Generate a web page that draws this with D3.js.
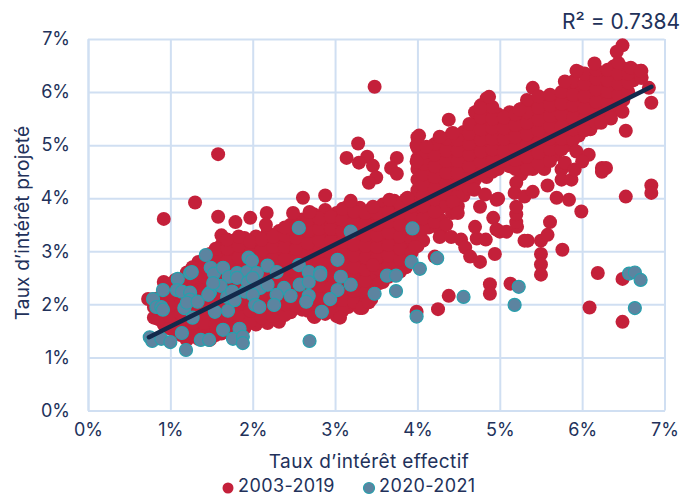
<!DOCTYPE html>
<html>
<head>
<meta charset="utf-8">
<script src="https://cdn.jsdelivr.net/npm/d3@7"></script>
<style>
  body { margin: 0; background: #fff; }
  text { font-family: Inter, "Open Sans", sans-serif; fill: #22315a; }
  .grid line, .grid path { stroke: #d0dff2; stroke-width: 2; }
</style>
</head>
<body>
<div id="chart"></div>
<script>
// tick labels
var xTicks = [0, 1, 2, 3, 4, 5, 6, 7];
var yTicks = [0, 1, 2, 3, 4, 5, 6, 7];

// 2003-2019, dense part of the cloud: [x, y, y, y ...] read column by column
var redColumns = [
  [0.80, 1.75, 1.95, 2.10],
  [0.92, 1.62, 1.83, 2.02, 2.20, 2.42],
  [1.06, 1.48, 1.70, 1.90, 2.10, 2.28, 2.46],
  [1.20, 1.33, 1.55, 1.75, 1.95, 2.15, 2.35, 2.60],
  [1.34, 1.35, 1.55, 1.78, 1.98, 2.20, 2.42, 2.66, 2.80],
  [1.48, 1.33, 1.52, 1.74, 1.95, 2.18, 2.38, 2.60, 2.80, 2.95],
  [1.62, 1.45, 1.65, 1.87, 2.08, 2.30, 2.50, 2.70, 2.92, 3.12, 3.30],
  [1.76, 1.48, 1.70, 1.90, 2.12, 2.33, 2.55, 2.75, 3.00, 3.20],
  [1.90, 1.55, 1.77, 1.98, 2.20, 2.40, 2.62, 2.85, 3.05, 3.25],
  [2.04, 1.62, 1.85, 2.05, 2.27, 2.48, 2.70, 2.90, 3.10, 3.28],
  [2.18, 1.65, 1.88, 2.10, 2.30, 2.50, 2.72, 2.95, 3.15, 3.35],
  [2.32, 1.67, 1.90, 2.10, 2.32, 2.55, 2.75, 2.98, 3.20, 3.38],
  [2.46, 1.85, 2.05, 2.28, 2.50, 2.70, 2.92, 3.12, 3.35, 3.50],
  [2.60, 1.90, 2.12, 2.35, 2.55, 2.78, 3.00, 3.20, 3.42, 3.60],
  [2.74, 1.78, 2.00, 2.20, 2.42, 2.65, 2.85, 3.08, 3.28, 3.50, 3.70],
  [2.88, 1.82, 2.05, 2.27, 2.48, 2.70, 2.92, 3.12, 3.35, 3.55, 3.78],
  [3.02, 1.78, 2.00, 2.20, 2.42, 2.65, 2.85, 3.08, 3.30, 3.50, 3.72],
  [3.16, 1.95, 2.15, 2.38, 2.60, 2.82, 3.02, 3.25, 3.45, 3.68, 3.85],
  [3.30, 1.93, 2.12, 2.35, 2.55, 2.78, 3.00, 3.20, 3.42, 3.62, 3.82],
  [3.44, 2.10, 2.30, 2.52, 2.75, 2.95, 3.18, 3.38, 3.60, 3.80],
  [3.58, 2.42, 2.62, 2.85, 3.05, 3.28, 3.48, 3.70, 3.88],
  [3.72, 2.55, 2.75, 2.98, 3.18, 3.40, 3.62, 3.82, 3.95],
  [3.86, 2.70, 2.90, 3.12, 3.32, 3.55, 3.75, 3.98],
  [4.00, 3.10, 3.30, 3.52, 3.72, 3.95, 4.15, 4.35, 4.55, 4.75, 4.95, 5.15],
  [4.14, 3.45, 3.65, 3.88, 4.08, 4.30, 4.50, 4.72, 4.92],
  [4.28, 3.38, 3.60, 3.82, 4.02, 4.25, 4.45, 4.68, 4.88, 5.10],
  [4.42, 3.72, 3.95, 4.15, 4.38, 4.58, 4.80, 5.00, 5.22],
  [4.56, 4.05, 4.28, 4.50, 4.70, 4.92, 5.12, 5.25],
  [4.70, 4.35, 4.55, 4.78, 4.98, 5.20, 5.40, 5.62],
  [4.84, 4.40, 4.60, 4.82, 5.02, 5.25, 5.45, 5.70, 5.88],
  [4.98, 4.55, 4.78, 5.00, 5.20, 5.40, 5.58],
  [5.12, 4.60, 4.80, 5.02, 5.22, 5.45, 5.62],
  [5.26, 4.45, 4.65, 4.88, 5.08, 5.30, 5.50, 5.68],
  [5.40, 4.55, 4.72, 4.95, 5.15, 5.38, 5.58, 5.80, 6.08],
  [5.54, 4.55, 4.78, 5.00, 5.20, 5.42, 5.62, 5.85],
  [5.68, 4.82, 5.02, 5.25, 5.45, 5.68, 5.88],
  [5.82, 5.00, 5.20, 5.42, 5.65, 5.85, 6.12],
  [5.96, 5.18, 5.40, 5.60, 5.82, 6.05, 6.38],
  [6.10, 5.30, 5.52, 5.72, 5.95, 6.15, 6.30],
  [6.24, 5.50, 5.70, 5.92, 6.12, 6.35],
  [6.38, 5.65, 5.85, 6.08, 6.30, 6.48],
  [6.50, 5.85, 6.05, 6.25, 6.45],
  [6.62, 6.22, 6.42],
  [6.72, 6.27, 6.40]
];

// more of the same cloud, the points lying between the columns above
var redColumnsBetween = [
  [0.86, 1.72, 1.92, 2.12],
  [0.99, 1.55, 1.78, 1.98, 2.18, 2.38],
  [1.13, 1.42, 1.62, 1.82, 2.02, 2.22, 2.42],
  [1.27, 1.45, 1.65, 1.85, 2.05, 2.25, 2.50, 2.70],
  [1.41, 1.45, 1.65, 1.85, 2.08, 2.30, 2.52, 2.72],
  [1.55, 1.42, 1.62, 1.85, 2.05, 2.25, 2.50, 2.70, 2.90, 3.05],
  [1.69, 1.55, 1.78, 1.98, 2.20, 2.42, 2.62, 2.82, 3.05, 3.22],
  [1.83, 1.60, 1.80, 2.00, 2.22, 2.45, 2.65, 2.88, 3.10, 3.28],
  [1.97, 1.68, 1.88, 2.10, 2.30, 2.52, 2.75, 2.95, 3.18],
  [2.11, 1.75, 1.98, 2.18, 2.40, 2.60, 2.82, 3.02, 3.22],
  [2.25, 1.78, 2.00, 2.20, 2.42, 2.65, 2.85, 3.08, 3.28],
  [2.39, 1.80, 2.00, 2.20, 2.42, 2.65, 2.85, 3.08, 3.30, 3.45],
  [2.53, 1.98, 2.18, 2.40, 2.62, 2.82, 3.05, 3.25, 3.48],
  [2.67, 1.88, 2.08, 2.30, 2.50, 2.72, 2.95, 3.15, 3.38, 3.60],
  [2.81, 1.90, 2.12, 2.35, 2.58, 2.78, 3.00, 3.20, 3.42, 3.62],
  [2.95, 1.90, 2.10, 2.32, 2.55, 2.75, 2.98, 3.20, 3.42, 3.65],
  [3.09, 1.88, 2.08, 2.30, 2.50, 2.72, 2.95, 3.18, 3.38, 3.60, 3.80],
  [3.23, 2.05, 2.25, 2.48, 2.70, 2.92, 3.12, 3.35, 3.55, 3.75],
  [3.37, 2.02, 2.22, 2.45, 2.65, 2.88, 3.10, 3.30, 3.52, 3.72],
  [3.51, 2.55, 2.68, 2.88, 3.08, 3.30, 3.50, 3.72],
  [3.65, 2.52, 2.72, 2.92, 3.12, 3.35, 3.55, 3.75],
  [3.79, 2.62, 2.85, 3.05, 3.28, 3.50, 3.72, 3.90],
  [3.93, 2.98, 3.22, 3.42, 3.65, 3.85],
  [4.07, 3.20, 3.42, 3.62, 3.85, 4.05, 4.25, 4.45, 4.65, 4.85],
  [4.21, 3.55, 3.75, 3.98, 4.18, 4.40, 4.60, 4.82, 5.02],
  [4.35, 3.50, 3.88, 4.08, 4.28, 4.48, 4.70, 4.90, 5.12],
  [4.49, 3.85, 4.05, 4.28, 4.48, 4.70, 4.90, 5.10],
  [4.63, 4.18, 4.40, 4.60, 4.82, 5.02, 5.22, 5.40],
  [4.77, 4.45, 4.68, 4.88, 5.10, 5.30, 5.52, 5.75],
  [4.91, 4.50, 4.70, 4.92, 5.12, 5.32, 5.50, 5.72],
  [5.05, 4.70, 4.90, 5.12, 5.32, 5.52],
  [5.19, 4.55, 4.72, 4.95, 5.15, 5.38, 5.58],
  [5.33, 4.55, 4.78, 5.00, 5.20, 5.42, 5.62, 5.85],
  [5.47, 4.65, 4.85, 5.05, 5.28, 5.48, 5.70, 5.92],
  [5.61, 4.70, 4.92, 5.12, 5.35, 5.55, 5.75, 5.95],
  [5.75, 4.92, 5.12, 5.35, 5.58, 5.78, 6.00],
  [5.89, 5.10, 5.30, 5.52, 5.75, 5.95, 6.20],
  [6.03, 5.28, 5.50, 5.70, 5.92, 6.15, 6.35],
  [6.17, 5.42, 5.62, 5.82, 6.05, 6.25, 6.42],
  [6.31, 5.60, 5.80, 6.00, 6.22, 6.42],
  [6.44, 5.75, 5.95, 6.15, 6.35, 6.55],
  [6.56, 6.00, 6.18, 6.35]
];

// 2003-2019, points standing apart from the cloud
var redScattered = [
  [0.73, 2.10], [0.92, 3.61], [1.30, 3.92], [1.58, 4.83], [3.48, 6.10],
  [1.58, 3.65], [1.79, 3.55], [1.97, 3.63], [2.17, 3.72], [2.16, 3.50],
  [2.49, 3.72], [2.61, 4.01], [2.88, 4.05], [2.69, 3.74], [3.19, 3.95],
  [3.66, 3.97], [3.88, 4.01], [3.46, 3.84], [3.28, 5.03], [3.14, 4.76],
  [3.39, 4.78], [3.29, 4.67], [3.46, 4.61], [3.50, 4.39], [3.41, 4.29],
  [3.75, 4.76], [3.68, 4.57], [3.75, 4.46], [4.02, 5.18], [3.99, 5.00],
  [4.11, 4.97], [4.27, 5.16], [3.99, 4.69], [4.43, 5.23], [4.38, 5.48],
  [2.75, 1.76], [3.06, 1.75], [3.33, 1.93], [3.41, 2.04], [3.54, 2.40],
  [3.46, 2.74], [3.97, 3.08], [3.99, 1.86], [4.25, 1.91], [4.38, 2.16],
  [4.21, 2.90], [4.27, 3.27], [4.41, 3.27], [4.53, 3.22], [4.58, 3.07],
  [4.64, 2.90], [4.76, 2.80], [4.94, 2.95], [4.88, 2.38], [4.88, 2.20],
  [4.72, 3.24], [4.83, 3.22], [4.70, 3.46], [4.76, 3.84], [4.69, 4.16],
  [4.82, 4.07], [4.43, 3.93], [4.49, 3.72], [4.96, 3.97], [4.92, 3.63],
  [4.96, 3.41], [5.00, 3.37], [5.08, 3.37], [5.13, 2.39], [5.21, 3.46],
  [5.20, 3.55], [5.20, 3.70], [5.20, 3.84], [5.20, 4.29], [5.18, 4.10],
  [5.30, 3.20], [5.34, 3.20], [5.50, 3.20], [5.58, 3.31], [5.61, 3.55],
  [5.76, 3.03], [5.50, 2.95], [5.50, 2.75], [5.50, 2.56], [5.30, 4.03],
  [5.40, 4.12], [5.58, 4.24], [5.69, 4.01], [5.84, 3.97], [5.99, 3.75],
  [5.75, 4.54], [5.75, 4.35], [5.87, 4.35], [5.79, 4.67], [5.91, 4.54],
  [5.93, 4.88], [6.08, 4.82], [6.00, 4.69], [6.24, 4.57], [6.29, 4.57],
  [6.24, 4.50], [6.19, 2.59], [6.09, 1.94], [6.49, 2.48], [6.49, 1.67],
  [6.53, 4.03], [6.84, 4.24], [6.84, 4.10], [6.53, 5.27], [6.49, 5.63],
  [6.35, 5.50], [6.23, 5.42], [6.84, 5.80], [6.81, 6.08], [6.72, 6.27],
  [6.49, 6.88], [6.42, 6.76], [6.15, 6.54], [5.93, 6.40], [6.59, 6.46],
  [6.71, 6.40], [5.79, 6.20], [4.87, 5.91], [4.76, 5.70], [5.24, 5.67],
  [4.98, 3.99]
];

// 2020-2021
var tealPoints = [
  [0.75, 1.38], [0.78, 1.31], [0.89, 1.35], [1.00, 1.29], [1.14, 1.46],
  [1.19, 1.14], [1.37, 1.33], [1.47, 1.33], [1.64, 1.52], [1.84, 1.54],
  [1.76, 1.35], [1.88, 1.39], [1.88, 1.27], [0.79, 2.10], [0.83, 1.95],
  [0.89, 1.95], [0.91, 1.90], [0.91, 2.27], [1.09, 2.48], [1.08, 2.27],
  [1.14, 2.24], [1.24, 2.59], [1.26, 2.61], [1.43, 2.93], [1.49, 2.69],
  [1.53, 2.58], [1.64, 2.69], [1.71, 2.52], [1.81, 2.59], [1.93, 2.61],
  [1.95, 2.88], [1.99, 2.82], [2.18, 2.73], [2.29, 2.61], [2.05, 2.59],
  [1.24, 2.22], [1.24, 2.09], [1.17, 1.93], [1.20, 2.03], [1.33, 2.05],
  [1.27, 1.75], [1.48, 2.22], [1.46, 2.18], [1.54, 1.86], [1.70, 1.88],
  [1.61, 2.35], [1.52, 2.40], [1.69, 2.14], [1.75, 2.24], [1.78, 2.08],
  [1.81, 2.50], [1.91, 2.24], [1.94, 2.42], [2.00, 2.50], [2.09, 2.31],
  [2.18, 2.37], [2.38, 2.31], [2.29, 2.18], [2.46, 2.16], [2.00, 2.18],
  [2.03, 1.99], [2.08, 1.95], [2.26, 1.99], [2.57, 2.37], [2.56, 3.44],
  [3.19, 3.37], [3.94, 3.43], [2.56, 2.74], [3.03, 2.84], [2.68, 2.61],
  [2.82, 2.60], [2.82, 2.56], [2.68, 2.42], [3.07, 2.52], [3.19, 2.37],
  [3.03, 2.27], [2.94, 2.10], [2.68, 2.16], [2.65, 2.05], [2.84, 1.86],
  [2.69, 1.31], [3.48, 2.20], [3.63, 2.54], [3.74, 2.54], [3.74, 2.25],
  [3.93, 2.80], [4.03, 2.67], [4.24, 2.87], [3.99, 1.77], [4.56, 2.14],
  [5.23, 2.33], [5.18, 1.99], [6.57, 2.58], [6.64, 2.60], [6.71, 2.46],
  [6.64, 1.93]
];

// regression line end points
var trendX = [0.74, 6.84];
var trendY = [1.38, 6.10];

var margin = {top: 39, right: 19.5, bottom: 86.5, left: 88},
    width = 684 - margin.left - margin.right,
    height = 497 - margin.top - margin.bottom;

var svg = d3.select("#chart")
  .append("svg")
    .attr("width", 684)
    .attr("height", 497)
  .append("g")
    .attr("transform", "translate(" + margin.left + "," + margin.top + ")");

var x = d3.scaleLinear().domain([0, 7]).range([0, width]);
var y = d3.scaleLinear().domain([0, 7]).range([height, 0]);

// the axes double as grid lines
svg.append("g")
    .attr("class", "grid")
    .attr("transform", "translate(0," + height + ")")
    .call(d3.axisBottom(x).tickValues(xTicks).tickSize(-height).tickSizeOuter(0)
      .tickPadding(13).tickFormat(function(d) { return d + "%"; }));

svg.append("g")
    .attr("class", "grid")
    .call(d3.axisLeft(y).tickValues(yTicks).tickSize(-width).tickSizeOuter(0)
      .tickPadding(18).tickFormat(function(d) { return d + "%"; }));

svg.selectAll(".tick text").style("font-size", "18px").style("font-family", "Inter");

// flatten the columns into points
var redPoints = [];
redColumns.concat(redColumnsBetween).forEach(function(col) {
  col.slice(1).forEach(function(v) { redPoints.push([col[0], v]); });
});
redPoints = redPoints.concat(redScattered);

svg.selectAll(".red")
    .data(redPoints)
    .enter()
    .append("circle")
      .attr("class", "red")
      .attr("cx", function(d) { return x(d[0]); })
      .attr("cy", function(d) { return y(d[1]); })
      .attr("r", 7)
      .style("fill", "#c4203a");

svg.selectAll(".teal")
    .data(tealPoints)
    .enter()
    .append("circle")
      .attr("class", "teal")
      .attr("cx", function(d) { return x(d[0]); })
      .attr("cy", function(d) { return y(d[1]); })
      .attr("r", 6.5)
      .style("fill", "#5c84a0")
      .style("stroke", "#27a0ad")
      .style("stroke-width", 1.2);

svg.append("line")
    .attr("x1", x(trendX[0]))
    .attr("y1", y(trendY[0]))
    .attr("x2", x(trendX[1]))
    .attr("y2", y(trendY[1]))
    .style("stroke", "#13294b")
    .style("stroke-width", 4.5)
    .style("stroke-linecap", "round");

// titles and legend sit on the page, not in the plot group
var page = d3.select("svg");

page.append("text")
    .attr("x", 369).attr("y", 468)
    .attr("text-anchor", "middle")
    .style("font-size", "19px")
    .style("letter-spacing", "0.4px")
    .text("Taux d’intérêt effectif");

page.append("text")
    .attr("transform", "translate(29,223) rotate(-90)")
    .attr("text-anchor", "middle")
    .style("font-size", "19px")
    .style("letter-spacing", "0.2px")
    .text("Taux d’intérêt projeté");

page.append("text")
    .attr("x", 680).attr("y", 29)
    .attr("text-anchor", "end")
    .style("font-size", "21px")
    .text("R² = 0.7384");

page.append("circle").attr("cx", 228).attr("cy", 488).attr("r", 5.5).style("fill", "#c4203a");
page.append("text").attr("x", 238).attr("y", 492).style("font-size", "18px").style("letter-spacing", "0.4px").text("2003-2019");
page.append("circle").attr("cx", 369).attr("cy", 488).attr("r", 5.5)
    .style("fill", "#5c84a0").style("stroke", "#27a0ad").style("stroke-width", 1.2);
page.append("text").attr("x", 379).attr("y", 492).style("font-size", "18px").style("letter-spacing", "0.4px").text("2020-2021");
</script>
</body>
</html>
